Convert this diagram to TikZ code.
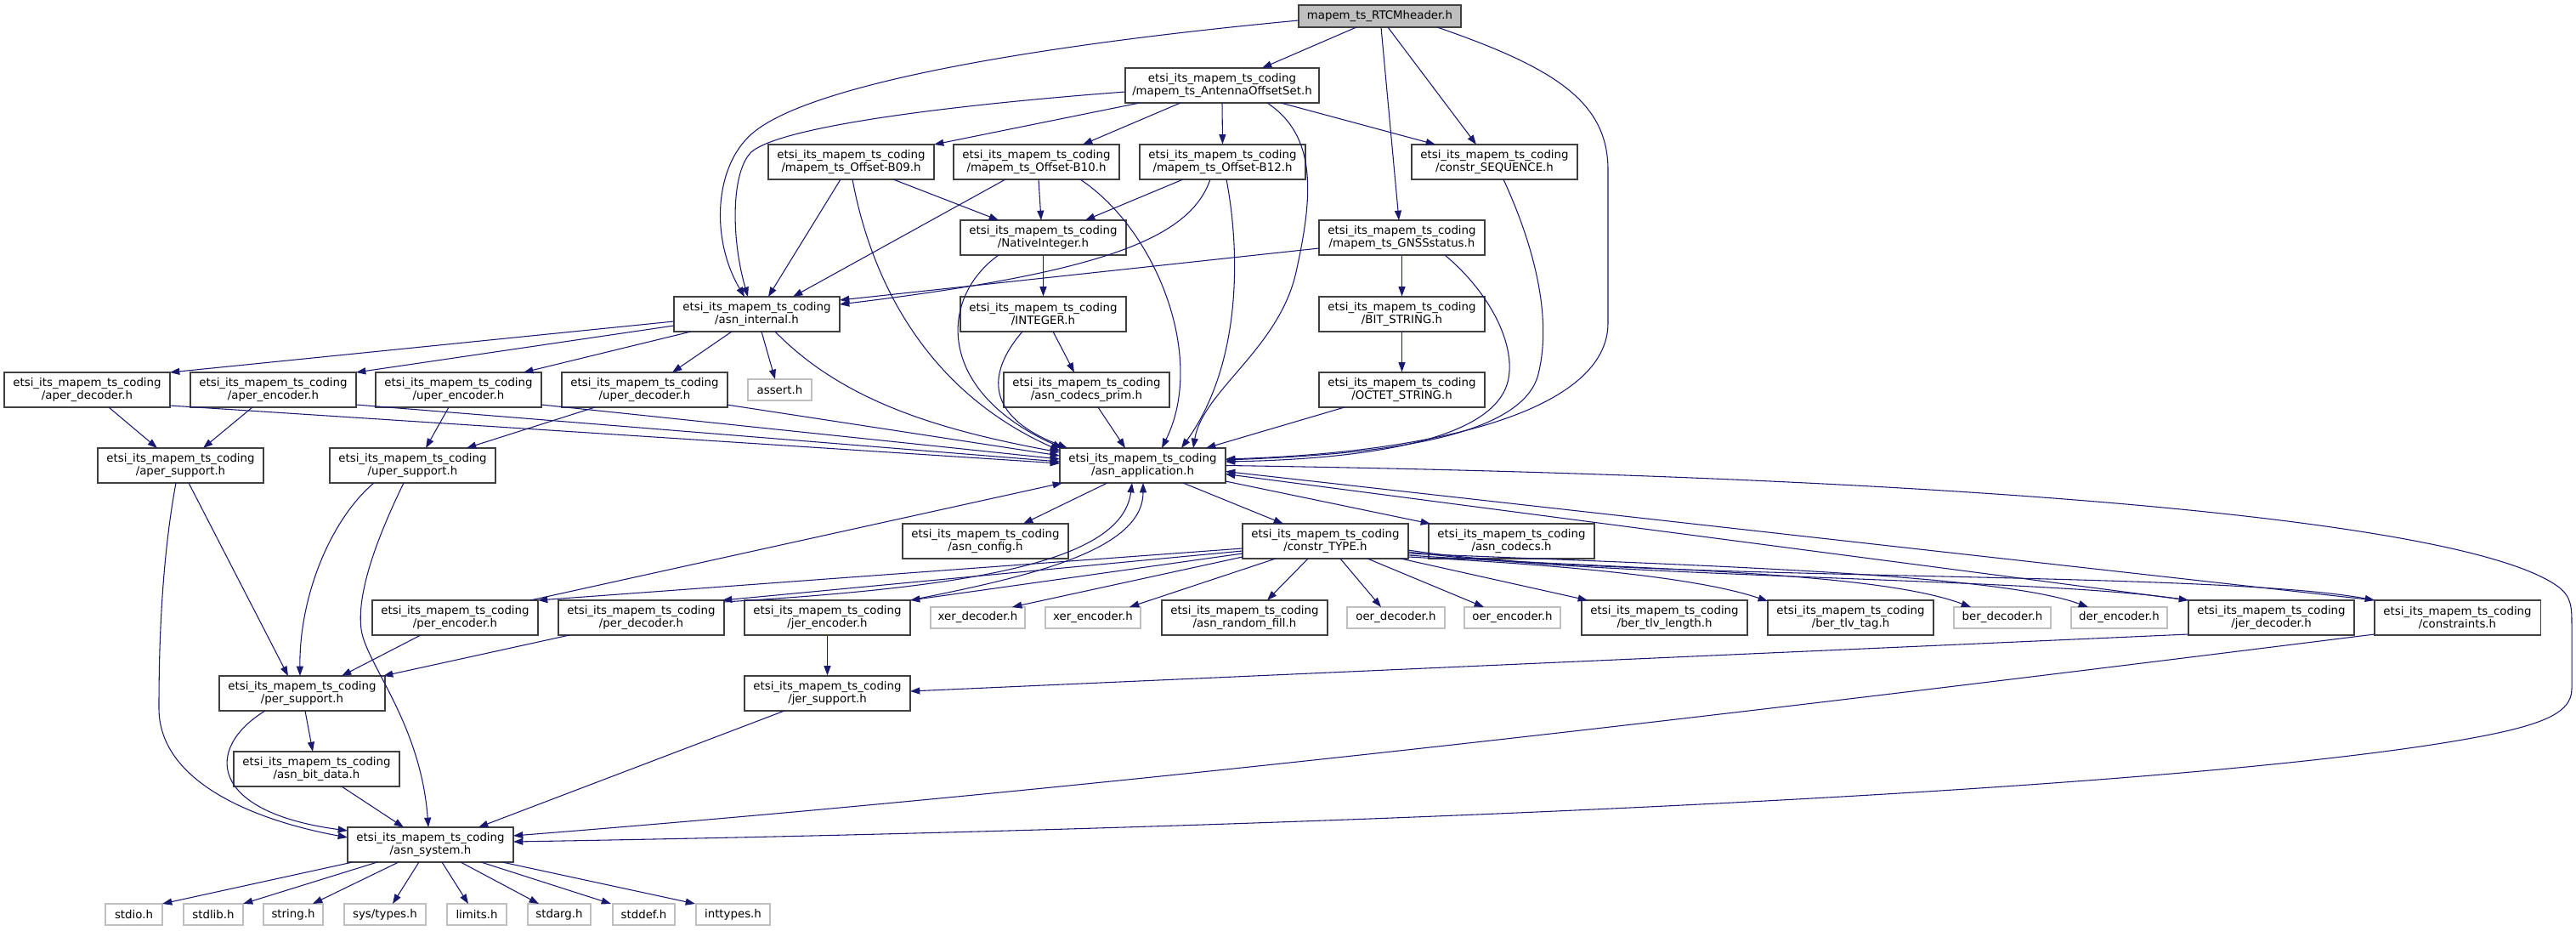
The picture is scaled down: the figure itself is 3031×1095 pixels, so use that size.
\documentclass[tikz,border=0pt]{standalone}
\usepackage{fontspec}
\setmainfont{DejaVu Sans}
\usetikzlibrary{arrows.meta,calc}
\definecolor{edgec}{HTML}{191970}
\definecolor{bord}{HTML}{404040}
\definecolor{gbord}{HTML}{BFBFBF}
\definecolor{rootfill}{HTML}{BFBFBF}
\newcommand\etsi{etsi\_its\_mapem\_ts\_coding}
\begin{document}
\begin{tikzpicture}[x=0.75pt,y=-0.75pt,
  fb/.style={rectangle,draw=bord,line width=0.8pt,fill=white,inner sep=0pt,
    minimum width=146.25pt,minimum height=30.75pt,align=center,
    font=\fontsize{10pt}{11pt}\selectfont},
  gb/.style={rectangle,draw=gbord,line width=0.8pt,fill=white,inner sep=0pt,
    minimum height=18.75pt,font=\fontsize{10pt}{11pt}\selectfont},
  rootb/.style={rectangle,draw=bord,line width=0.8pt,fill=rootfill,inner sep=0pt,
    minimum width=143.25pt,minimum height=19.5pt,font=\fontsize{10pt}{11pt}\selectfont},
  e/.style={draw=edgec,line width=0.8pt,-{Triangle[length=8.5pt,width=6pt]}}]
\fill[white] (0,0) rectangle (3031,1095);
\useasboundingbox (0,0) rectangle (3031,1095);

% nodes
\node[rootb] (root) at (1623.5,19) {mapem\_ts\_RTCMheader.h};
\node[fb,minimum width=171pt] (aos) at (1438,100.5) {\etsi\\/mapem\_ts\_AntennaOffsetSet.h};
\node[fb] (b09) at (1001.5,190.5) {\etsi\\/mapem\_ts\_Offset-B09.h};
\node[fb] (b10) at (1219.5,190.5) {\etsi\\/mapem\_ts\_Offset-B10.h};
\node[fb] (b12) at (1438.5,190.5) {\etsi\\/mapem\_ts\_Offset-B12.h};
\node[fb] (seq) at (1758.5,190.5) {\etsi\\/constr\_SEQUENCE.h};
\node[fb] (nat) at (1227.5,279.5) {\etsi\\/NativeInteger.h};
\node[fb] (gnss) at (1649.5,279.5) {\etsi\\/mapem\_ts\_GNSSstatus.h};
\node[fb] (intl) at (890.5,369.5) {\etsi\\/asn\_internal.h};
\node[fb] (integer) at (1227.5,369.5) {\etsi\\/INTEGER.h};
\node[fb] (bits) at (1649.5,369.5) {\etsi\\/BIT\_STRING.h};
\node[fb] (aperd) at (102.5,458.5) {\etsi\\/aper\_decoder.h};
\node[fb] (apere) at (321.5,458.5) {\etsi\\/aper\_encoder.h};
\node[fb] (upere) at (539.5,458.5) {\etsi\\/uper\_encoder.h};
\node[fb] (uperd) at (758.5,458.5) {\etsi\\/uper\_decoder.h};
\node[gb,minimum width=56.25pt] (assert) at (917.5,458.5) {assert.h};
\node[fb] (prim) at (1278.5,458.5) {\etsi\\/asn\_codecs\_prim.h};
\node[fb] (octet) at (1649.5,458.5) {\etsi\\/OCTET\_STRING.h};
\node[fb] (apers) at (212.5,547.5) {\etsi\\/aper\_support.h};
\node[fb] (upers) at (485.5,547.5) {\etsi\\/uper\_support.h};
\node[fb] (app) at (1344.5,547.5) {\etsi\\/asn\_application.h};
\node[fb] (config) at (1159.5,636.5) {\etsi\\/asn\_config.h};
\node[fb] (ctype) at (1559.5,636.5) {\etsi\\/constr\_TYPE.h};
\node[fb] (codecs) at (1778.5,636.5) {\etsi\\/asn\_codecs.h};
\node[fb] (pere) at (535.5,726.5) {\etsi\\/per\_encoder.h};
\node[fb] (perd) at (754.5,726.5) {\etsi\\/per\_decoder.h};
\node[fb] (jere) at (973.5,726.5) {\etsi\\/jer\_encoder.h};
\node[gb,minimum width=83.25pt] (xerd) at (1150.5,726.5) {xer\_decoder.h};
\node[gb,minimum width=84pt] (xere) at (1286,726.5) {xer\_encoder.h};
\node[fb] (rand) at (1464.5,726.5) {\etsi\\/asn\_random\_fill.h};
\node[gb,minimum width=86.25pt] (oerd) at (1642.5,726.5) {oer\_decoder.h};
\node[gb,minimum width=84.75pt] (oere) at (1779.5,726.5) {oer\_encoder.h};
\node[fb] (tlvl) at (1958.5,726.5) {\etsi\\/ber\_tlv\_length.h};
\node[fb] (tlvt) at (2177.5,726.5) {\etsi\\/ber\_tlv\_tag.h};
\node[gb,minimum width=85.5pt] (berd) at (2356,726.5) {ber\_decoder.h};
\node[gb,minimum width=84.75pt] (dere) at (2493.5,726.5) {der\_encoder.h};
\node[fb] (jerd) at (2672.5,726.5) {\etsi\\/jer\_decoder.h};
\node[fb] (cons) at (2891.5,726.5) {\etsi\\/constraints.h};
\node[fb] (pers) at (355.5,815.5) {\etsi\\/per\_support.h};
\node[fb] (jers) at (973.5,815.5) {\etsi\\/jer\_support.h};
\node[fb] (bitd) at (372.5,904.5) {\etsi\\/asn\_bit\_data.h};
\node[fb] (sys) at (506.5,993.5) {\etsi\\/asn\_system.h};
\node[gb,minimum width=50.25pt] (stdio) at (157.5,1075.5) {stdio.h};
\node[gb,minimum width=52.5pt] (stdlib) at (251,1075.5) {stdlib.h};
\node[gb,minimum width=52.5pt] (string) at (345,1075.5) {string.h};
\node[gb,minimum width=72pt] (systypes) at (453,1075.5) {sys/types.h};
\node[gb,minimum width=52.5pt] (limits) at (561,1075.5) {limits.h};
\node[gb,minimum width=55.5pt] (stdarg) at (658,1075.5) {stdarg.h};
\node[gb,minimum width=54.75pt] (stddef) at (757.5,1075.5) {stddef.h};
\node[gb,minimum width=65.25pt] (inttypes) at (862.5,1075.5) {inttypes.h};

% root
\draw[e] ($(root)+(-27.5,13)$) -- ($(aos)+(47,-20.5)$);
\draw[e] ($(root)+(-95.5,5)$) .. controls (1200,55) and (960,100) .. (890,153) .. controls (840,190) and (835,280) .. ($(intl)+(-14.5,-20.5)$);
\draw[e] ($(root)+(9.5,13)$) -- ($(seq)+(-21.5,-20.5)$);
\draw[e] ($(root)+(1.5,13)$) -- ($(gnss)+(-3.5,-20.5)$);
\draw[e] ($(root)+(67.5,13)$) .. controls (1830,80) and (1892,120) .. (1892,200) -- (1892,380) .. controls (1892,480) and (1700,532) .. ($(app)+(97.5,-7.5)$);
% aos
\draw[e] ($(aos)+(-114,7.5)$) .. controls (1100,125) and (920,150) .. (885,178) .. controls (860,200) and (860,280) .. ($(intl)+(-10.5,-20.5)$);
\draw[e] ($(aos)+(-97,20.5)$) -- ($(b09)+(97.5,-20.5)$);
\draw[e] ($(aos)+(-49,20.5)$) -- ($(b10)+(54.5,-20.5)$);
\draw[e] (aos.south) -- (b12.north);
\draw[e] ($(aos)+(69,20.5)$) -- ($(seq)+(-69.5,-20.5)$);
\draw[e] ($(aos)+(53,20.5)$) .. controls (1550,160) and (1545,230) .. (1525,320) .. controls (1505,410) and (1415,460) .. ($(app)+(59.5,-20.5)$);
% b09
\draw[e] ($(b09)+(-12.5,20.5)$) -- ($(intl)+(13.5,-20.5)$);
\draw[e] ($(b09)+(49.5,20.5)$) -- ($(nat)+(-52.5,-20.5)$);
\draw[e] ($(b09)+(1.5,20.5)$) .. controls (1025,330) and (1090,460) .. ($(app)+(-97.5,-17.5)$);
% b10
\draw[e] ($(b10)+(-36.5,20.5)$) -- ($(intl)+(42.5,-20.5)$);
\draw[e] ($(b10)+(2.5,20.5)$) -- ($(nat)+(-2.5,-20.5)$);
\draw[e] ($(b10)+(51.5,20.5)$) .. controls (1360,270) and (1420,420) .. ($(app)+(22.5,-20.5)$);
% b12
\draw[e] ($(b12)+(-46.5,20.5)$) -- ($(nat)+(49.5,-20.5)$);
\draw[e] ($(b12)+(-14.5,20.5)$) .. controls (1400,280) and (1300,320) .. ($(intl)+(97.5,-11.5)$);
\draw[e] ($(b12)+(4.5,20.5)$) .. controls (1460,300) and (1460,430) .. ($(app)+(45.5,-20.5)$);
% seq
\draw[e] ($(seq)+(10.5,20.5)$) .. controls (1810,300) and (1825,380) .. (1810,440) .. controls (1790,520) and (1600,535) .. ($(app)+(97.5,-6.5)$);
% gnss
\draw[e] (gnss.south) -- (bits.north);
\draw[e] ($(gnss)+(-97.5,12.5)$) -- ($(intl)+(97.5,-16.5)$);
\draw[e] ($(gnss)+(50.5,20.5)$) .. controls (1760,350) and (1790,420) .. (1770,460) .. controls (1740,520) and (1600,540) .. ($(app)+(97.5,-4.5)$);
% nat, integer, prim, bits, octet
\draw[e] (nat.south) -- (integer.north);
\draw[e] ($(nat)+(-52.5,20.5)$) .. controls (1105,350) and (1100,460) .. ($(app)+(-94.5,-20.5)$);
\draw[e] ($(integer)+(11.5,20.5)$) -- ($(prim)+(-14.5,-20.5)$);
\draw[e] ($(integer)+(-24.5,20.5)$) .. controls (1160,440) and (1160,490) .. ($(app)+(-88.5,-20.5)$);
\draw[e] ($(prim)+(13.5,20.5)$) -- ($(app)+(-20.5,-20.5)$);
\draw[e] (bits.south) -- (octet.north);
\draw[e] ($(octet)+(-67.5,20.5)$) -- ($(app)+(74.5,-20.5)$);
% asn_internal
\draw[e] ($(intl)+(-97.5,8.5)$) -- ($(aperd)+(97.5,-20.5)$);
\draw[e] ($(intl)+(-97.5,13.5)$) -- ($(apere)+(97.5,-20.5)$);
\draw[e] ($(intl)+(-77.5,20.5)$) -- ($(upere)+(76.5,-20.5)$);
\draw[e] ($(intl)+(-29.5,20.5)$) -- ($(uperd)+(32.5,-20.5)$);
\draw[e] ($(intl)+(5.5,20.5)$) -- ($(assert)+(-5.5,-12.5)$);
\draw[e] ($(intl)+(21.5,20.5)$) .. controls (990,470) and (1100,505) .. ($(app)+(-97.5,-15.5)$);
% aper / uper
\draw[e] ($(aperd)+(25.5,20.5)$) -- ($(apers)+(-27.5,-20.5)$);
\draw[e] ($(aperd)+(97.5,18.5)$) -- ($(app)+(-97.5,-2.5)$);
\draw[e] ($(apere)+(-24.5,20.5)$) -- ($(apers)+(26.5,-20.5)$);
\draw[e] ($(apere)+(97.5,17.5)$) -- ($(app)+(-97.5,-4.5)$);
\draw[e] ($(upere)+(-11.5,20.5)$) -- ($(upers)+(15.5,-20.5)$);
\draw[e] ($(upere)+(97.5,17.5)$) -- ($(app)+(-97.5,-7.5)$);
\draw[e] ($(uperd)+(-58.5,20.5)$) -- ($(upers)+(63.5,-20.5)$);
\draw[e] ($(uperd)+(96.5,17.5)$) -- ($(app)+(-97.5,-11.5)$);
% aper_support / uper_support
\draw[e] ($(apers)+(9.5,20.5)$) -- ($(pers)+(-16.5,-20.5)$);
\draw[e] ($(apers)+(-5.5,20.5)$) .. controls (190,660) and (187,760) .. (187,833) .. controls (187,920) and (300,965) .. ($(sys)+(-97.5,-8.5)$);
\draw[e] ($(upers)+(-45.5,20.5)$) .. controls (390,610) and (352,700) .. ($(pers)+(-2.5,-20.5)$);
\draw[e] ($(upers)+(-10.5,20.5)$) .. controls (440,640) and (420,700) .. (425,740) .. controls (430,780) and (495,850) .. ($(sys)+(-2.5,-20.5)$);
% per / jer encoders, decoders
\draw[e] ($(pere)+(-40.5,20.5)$) -- ($(pers)+(46.5,-20.5)$);
\draw[e] ($(pere)+(88.5,-20.5)$) -- ($(app)+(-94.5,20.5)$);
\draw[e] ($(perd)+(-84.5,20.5)$) -- ($(pers)+(95.5,-20.5)$);
\draw[e] ($(perd)+(97.5,-18.5)$) .. controls (1150,690) and (1320,660) .. ($(app)+(-12.5,20.5)$);
\draw[e] ($(jere)+(97.5,-20.5)$) .. controls (1200,680) and (1345,650) .. ($(app)+(0.5,20.5)$);
\draw[e] (jere.south) -- (jers.north);
\draw[e] ($(jerd)+(-97.5,19.5)$) -- ($(jers)+(97.5,-2.5)$);
\draw[e] ($(jerd)+(-97.5,-20.5)$) -- ($(app)+(97.5,10)$);
\draw[e] ($(cons)+(-97.5,-20.5)$) -- ($(app)+(97.5,7)$);
\draw[e] ($(cons)+(-97.5,19.5)$) .. controls (2200,820) and (1400,920) .. ($(sys)+(97.5,-10.5)$);
% asn_application
\draw[e] (app.east) .. controls (2300,560) and (2900,610) .. (3010,690) .. controls (3026,702) and (3026,715) .. (3026,735) -- (3026,810) .. controls (3026,840) and (2990,855) .. (2880,873) .. controls (2500,935) and (1500,975) .. ($(sys)+(97.5,-3.5)$);
\draw[e] ($(app)+(-41.5,20.5)$) -- ($(config)+(44.5,-20.5)$);
\draw[e] ($(app)+(47.5,20.5)$) -- ($(ctype)+(-49.5,-20.5)$);
\draw[e] ($(app)+(97.5,18.5)$) -- ($(codecs)+(-95.5,-20.5)$);
% constr_TYPE
\draw[e] ($(ctype)+(-97.5,8.5)$) -- ($(pere)+(97.5,-20.5)$);
\draw[e] ($(ctype)+(-97.5,11.5)$) -- ($(perd)+(95.5,-20.5)$);
\draw[e] ($(ctype)+(-97.5,14.5)$) -- ($(jere)+(97.5,-20.5)$);
\draw[e] ($(ctype)+(-97.5,18.5)$) -- ($(xerd)+(40.5,-12.5)$);
\draw[e] ($(ctype)+(-58.5,20.5)$) -- ($(xere)+(43,-12.5)$);
\draw[e] ($(ctype)+(-20.5,20.5)$) -- ($(rand)+(26.5,-20.5)$);
\draw[e] ($(ctype)+(17.5,20.5)$) -- ($(oerd)+(-17.5,-12.5)$);
\draw[e] ($(ctype)+(49.5,20.5)$) -- ($(oere)+(-33.5,-12.5)$);
\draw[e] ($(ctype)+(88.5,20.5)$) -- ($(tlvl)+(-90.5,-20.5)$);
\draw[e] ($(ctype)+(97.5,18.5)$) .. controls (1850,665) and (2000,680) .. ($(tlvt)+(-97.5,-19.5)$);
\draw[e] ($(ctype)+(97.5,16.5)$) .. controls (1900,670) and (2200,670) .. ($(berd)+(-37,-12.5)$);
\draw[e] ($(ctype)+(97.5,14.5)$) .. controls (2000,665) and (2350,675) .. ($(dere)+(-36.5,-12.5)$);
\draw[e] ($(ctype)+(97.5,12.5)$) .. controls (1900,680) and (2400,680) .. ($(jerd)+(-97.5,-20.5)$);
\draw[e] ($(ctype)+(97.5,10.5)$) .. controls (1900,685) and (2600,670) .. ($(cons)+(-97.5,-20.5)$);
% per_support, bit_data, jer_support
\draw[e] ($(pers)+(3.5,20.5)$) -- ($(bitd)+(-4.5,-20.5)$);
\draw[e] ($(pers)+(-43.5,20.5)$) .. controls (240,880) and (245,955) .. ($(sys)+(-97.5,-16.5)$);
\draw[e] ($(bitd)+(29.5,20.5)$) -- ($(sys)+(-31.5,-20.5)$);
\draw[e] ($(jers)+(-50.5,20.5)$) -- ($(sys)+(56.5,-20.5)$);
% asn_system
\draw[e] ($(sys)+(-91.5,20.5)$) -- ($(stdio)+(33.5,-12.5)$);
\draw[e] ($(sys)+(-62.5,20.5)$) -- ($(stdlib)+(35,-12.5)$);
\draw[e] ($(sys)+(-37.5,20.5)$) -- ($(string)+(23,-12.5)$);
\draw[e] ($(sys)+(-13.5,20.5)$) -- ($(systypes)+(9,-12.5)$);
\draw[e] ($(sys)+(13.5,20.5)$) -- ($(limits)+(-10,-12.5)$);
\draw[e] ($(sys)+(35.5,20.5)$) -- ($(stdarg)+(-24,-12.5)$);
\draw[e] ($(sys)+(59.5,20.5)$) -- ($(stddef)+(-38.5,-12.5)$);
\draw[e] ($(sys)+(84.5,20.5)$) -- ($(inttypes)+(-44.5,-12.5)$);
\end{tikzpicture}
\end{document}
